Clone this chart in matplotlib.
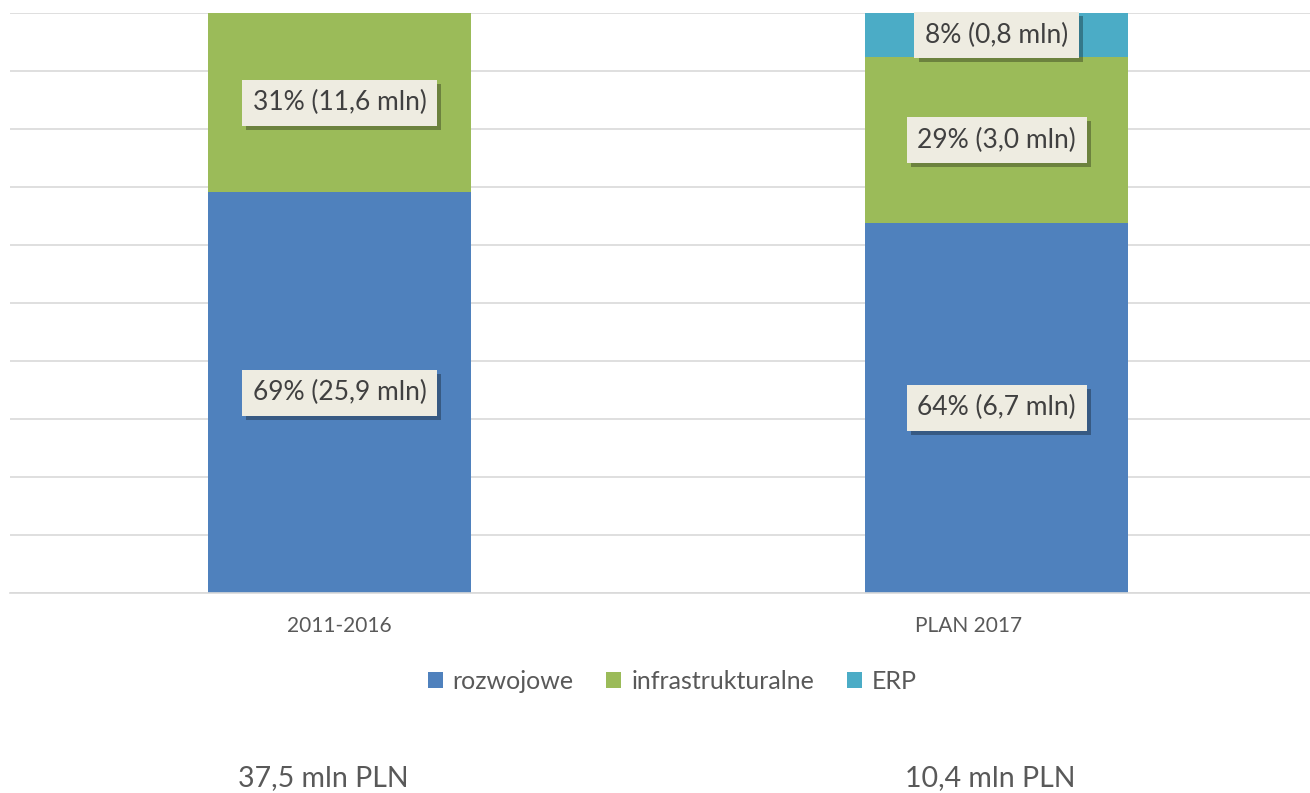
import numpy as np
import matplotlib
matplotlib.use("Agg")
import matplotlib.pyplot as plt
import matplotlib.patheffects as pe
import matplotlib.transforms as mtransforms

plt.rcParams['font.family'] = ['Lato', 'DejaVu Sans']

categories = ['2011-2016', 'PLAN 2017']
series = ['rozwojowe', 'infrastrukturalne', 'ERP']
rozwojowe = [25.9, 6.7]
infrastrukturalne = [11.6, 3.0]
erp = [0.0, 0.8]
pct_labels = [['69% (25,9 mln)', '64% (6,7 mln)'],
              ['31% (11,6 mln)', '29% (3,0 mln)'],
              ['', '8% (0,8 mln)']]
totals = ['37,5 mln PLN', '10,4 mln PLN']

colors = ['#4f81bd', '#9bbb59', '#4bacc6']
txt_gray = '#595959'

vals = np.array([rozwojowe, infrastrukturalne, erp])
shares = vals / vals.sum(axis=0) * 100

fig = plt.figure(figsize=(13.1, 7.93), dpi=100)
ax = fig.add_axes([0.0076, 0.2522, 0.9924, 0.7314])

x = np.arange(len(categories))
bottom = np.zeros(len(categories))
for i, name in enumerate(series):
    ax.bar(x, shares[i], 0.40, bottom=bottom, color=colors[i], label=name, zorder=2)
    for j in range(len(categories)):
        if pct_labels[i][j]:
            t = ax.text(x[j], bottom[j] + shares[i][j] / 2, pct_labels[i][j],
                        ha='center', va='center', fontsize=19, color='#404040', zorder=4,
                        bbox=dict(boxstyle='square,pad=0.4', fc='#eeece1', ec='none'))
            t.get_bbox_patch().set_path_effects([
                pe.SimplePatchShadow(offset=(3, -3), shadow_rgbFace='black', alpha=0.3),
                pe.Normal()])
    bottom += shares[i]

ax.set_ylim(0, 100)
ax.set_xlim(-0.502, 1.477)
ax.set_yticks(np.arange(0, 101, 10))
ax.yaxis.grid(True, color='#d9d9d9', linewidth=1.2, zorder=0)
ax.set_axisbelow(True)
ax.tick_params(axis='y', left=False, labelleft=False)
ax.tick_params(axis='x', bottom=False, labelsize=15, labelcolor=txt_gray, pad=13)
ax.set_xticks(x)
ax.set_xticklabels(categories)
# second category label sits a little left of its bar in the original
lbl = ax.get_xticklabels()[1]
lbl.set_transform(lbl.get_transform() + mtransforms.ScaledTranslation(-0.28, 0, fig.dpi_scale_trans))
for s in ['top', 'right', 'left']:
    ax.spines[s].set_visible(False)
ax.spines['bottom'].set_color('#d9d9d9')
ax.spines['bottom'].set_linewidth(1.2)

leg = fig.legend(loc='center', bbox_to_anchor=(0.513, 0.141), ncol=3, frameon=False,
                 fontsize=18, handlelength=0.6, handleheight=0.6, handletextpad=0.4,
                 columnspacing=1.3)
for t in leg.get_texts():
    t.set_color(txt_gray)

fig.text(0.247, 0.019, totals[0], ha='center', va='center', fontsize=20.5, color=txt_gray)
fig.text(0.756, 0.019, totals[1], ha='center', va='center', fontsize=20.5, color=txt_gray)

fig.savefig('out.png', dpi=100, facecolor='white')
